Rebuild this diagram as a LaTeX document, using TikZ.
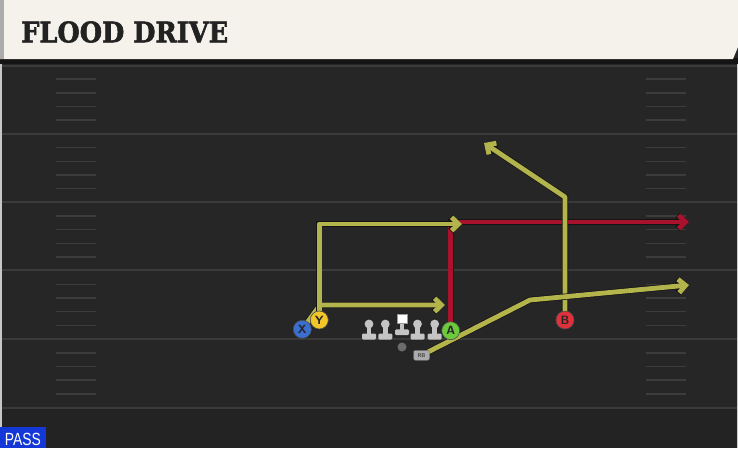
\documentclass[tikz,border=0pt]{standalone}
\usepackage{fontspec}
\setmainfont{DejaVu Sans}
\newfontfamily\titlefont{DejaVu Serif Bold}[FakeBold=2.2]
\newfontfamily\passfont{Liberation Sans}
\usetikzlibrary{arrows.meta}
\pgfdeclarelayer{bg}
\pgfdeclarelayer{routes}
\pgfsetlayers{bg,routes,main}
\definecolor{field}{HTML}{262626}
\definecolor{fieldlow}{HTML}{232323}
\definecolor{yardcol}{HTML}{3A3A3A}
\definecolor{hashcol}{HTML}{3C3C3C}
\definecolor{cream}{HTML}{F4F2EB}
\definecolor{titlecol}{HTML}{222222}
\definecolor{routeyellow}{HTML}{B4B44C}
\definecolor{routered}{HTML}{A8122C}
\definecolor{routeedge}{HTML}{141414}
\definecolor{pblue}{HTML}{3A6FD0}
\definecolor{pyellow}{HTML}{F2C62A}
\definecolor{pgreen}{HTML}{6CC83C}
\definecolor{pred}{HTML}{E0303C}
\definecolor{linegray}{HTML}{C4C4C4}
\definecolor{passblue}{HTML}{1438D8}
\tikzset{
  yardline/.style={draw=yardcol, line width=2pt},
  hashmark/.style={draw=hashcol, line width=1.5pt},
  player/.style={circle, draw=black!70, line width=0.6pt, minimum size=18pt, inner sep=0pt,
    font=\sffamily\bfseries\fontsize{12}{12}\selectfont, text=black!85},
  rbbox/.style={rounded corners=2pt, fill=black!33, draw=black!60, line width=0.4pt,
    minimum width=16pt, minimum height=10pt, inner sep=0pt,
    font=\sffamily\bfseries\fontsize{5.5}{5.5}\selectfont, text=black!75},
  qbdot/.style={circle, fill=black!58, minimum size=9pt, inner sep=0pt},
  route/.style={line width=4.8pt, line join=round, -{Straight Barb[length=7pt,width=13.5pt]},
    preaction={draw=routeedge, line width=6.2pt}},
  yroute/.style={route, draw=routeyellow},
  rroute/.style={route, draw=routered},
  lineman/.pic={
    \fill[linegray] (-2.4,0) rectangle (2.4,10);
    \fill[linegray, rounded corners=1.2pt] (-7,9.5) rectangle (7,15.5);
    \fill[linegray] (0,0) circle (4.4pt);
  },
  centerman/.pic={
    \fill[linegray] (-2.4,8) rectangle (2.4,16);
    \fill[linegray, rounded corners=1.2pt] (-7,15.3) rectangle (7,21);
    \fill[white, draw=black!40, line width=0.4pt] (-5,0) rectangle (5,9);
  }
}
\begin{document}
\begin{tikzpicture}[x=1pt,y=-1pt]
\useasboundingbox (0,0) rectangle (738,448);
\begin{pgfonlayer}{bg}
  % field
  \fill[field] (0,0) rectangle (738,448);
  \fill[fieldlow] (0,408) rectangle (738,448);
  \foreach \yy in {65.5,133.5,201.5,270,338.5,408}
    \draw[yardline] (0,\yy) -- (738,\yy);
  \foreach \z in {65.5,133.9,202.3,270.7,339.1}
    \foreach \k in {1,...,4} {
      \draw[hashmark] (56,{\z+13.68*\k}) -- (96,{\z+13.68*\k});
      \draw[hashmark] (646,{\z+13.68*\k}) -- (686,{\z+13.68*\k});
    }
  \fill[black!22] (0,59) rectangle (2,448);
  \fill[black!20] (736.5,59) rectangle (738,448);
  % header
  \fill[black!92] (0,58) rectangle (738,63.5);
  \fill[cream] (0,0) -- (738,0) -- (738,47) -- (733,59) -- (0,59) -- cycle;
  \fill[black!33] (0,0) rectangle (4,59);
\end{pgfonlayer}

\node[anchor=base west, inner sep=0pt, text=titlecol] (title) at (21,42.3)
  {\resizebox{207pt}{21pt}{\titlefont FLOOD DRIVE}};

% offensive line
\pic (lt) at (369,324) {lineman};
\pic (lg) at (385.3,324) {lineman};
\pic (c) at (402,314) {centerman};
\pic (rg) at (417.5,324) {lineman};
\pic (rt) at (434.7,324) {lineman};

% players
\node[qbdot] (QB) at (402,347) {};
\node[rbbox] (RB) at (421.5,355.3) {RB};
\node[player, fill=pblue] (X) at (302.3,329.3) {X};
\node[player, fill=pyellow] (Y) at (319.3,320) {Y};
\node[player, fill=pgreen] (A) at (450.7,330.7) {A};
\node[player, fill=pred] (B) at (565,320) {B};

% route waypoints
\coordinate (xc) at (320,305);
\coordinate (xe) at (445,305);
\coordinate (ye) at (462,224);
\coordinate (ae) at (689,222);
\coordinate (bc) at (565,197);
\coordinate (be) at (484,143);
\coordinate (rc) at (530,300);
\coordinate (re) at (689,285);

\begin{pgfonlayer}{routes}
  \draw[rroute] (A.center) |- (ae);
  \draw[yroute] (X.center) -- (xc) -- (xe);
  \draw[yroute] (Y.center) |- (ye);
  \draw[yroute] (B.center) -- (bc) -- (be);
  \draw[yroute] (RB.center) -- (rc) -- (re);
\end{pgfonlayer}

% play type
\node[fill=passblue, anchor=south west, inner sep=0pt, minimum width=46pt, minimum height=20.5pt] (pass) at (0,448) {};
\node[anchor=base west, inner sep=0pt, text=white] (passlabel) at (4.7,445)
  {\resizebox{36pt}{12.3pt}{\passfont PASS}};
\end{tikzpicture}
\end{document}
